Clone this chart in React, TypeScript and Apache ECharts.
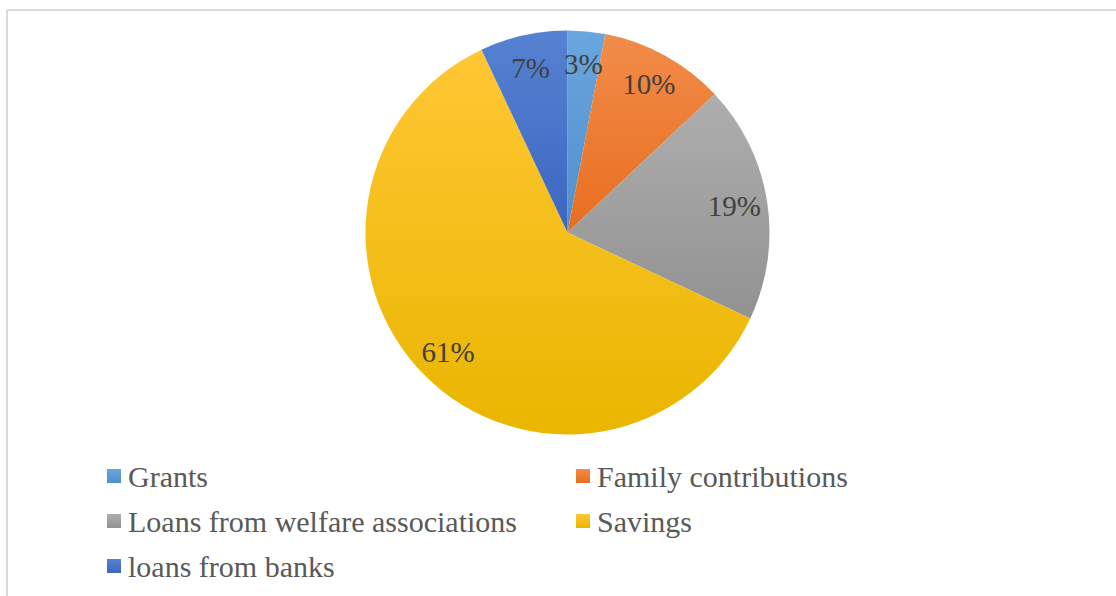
import React, { useEffect, useRef } from "react";
import * as echarts from "echarts";

const categories = [
  "Grants",
  "Family contributions",
  "Loans from welfare associations",
  "Savings",
  "loans from banks",
];
const values = [3, 10, 19, 61, 7];
const topColors = ["#6AA6DE", "#F28C4A", "#AEAEAE", "#FFC734", "#5682D2"];
const bottomColors = ["#4F8FCB", "#E86E1F", "#929292", "#E9B600", "#3D66BF"];

export default function App() {
  const ref = useRef<HTMLDivElement>(null);
  useEffect(() => {
    if (!ref.current) return;
    const chart = echarts.init(ref.current, undefined, { renderer: "svg" });
    const data = categories.map((name, i) => ({
      name,
      value: values[i],
      itemStyle: {
        color: new echarts.graphic.LinearGradient(0, 0, 0, 1, [
          { offset: 0, color: topColors[i] },
          { offset: 1, color: bottomColors[i] },
        ]),
      },
    }));
    const labelData = categories.map((name, i) => ({ name, value: values[i] }));
    chart.setOption({
      animation: false,
      backgroundColor: "#ffffff",
      legend: {
        left: 107,
        top: 458.5,
        width: 940,
        padding: 0,
        orient: "horizontal",
        icon: "rect",
        itemWidth: 14,
        itemHeight: 14,
        itemGap: 10,
        data: categories,
        textStyle: {
          fontFamily: "'Liberation Serif', 'Times New Roman', serif",
          fontSize: 30,
          color: "#595959",
          width: 438,
          lineHeight: 35,
          padding: [0, 0, 0, 2],
        },
      },
      graphic: [
        {
          type: "line",
          shape: { x1: 7, y1: 10, x2: 1116, y2: 10 },
          style: { stroke: "#D9D9D9", lineWidth: 2 },
          silent: true,
        },
        {
          type: "line",
          shape: { x1: 7, y1: 10, x2: 7, y2: 596 },
          style: { stroke: "#D9D9D9", lineWidth: 2 },
          silent: true,
        },
      ],
      series: [
        {
          type: "pie",
          center: [567.5, 232.5],
          radius: [0, 202],
          startAngle: 90,
          clockwise: true,
          data,
          label: { show: false },
          labelLine: { show: false },
          emphasis: { disabled: true },
          silent: true,
        },
        {
          type: "pie",
          center: [567.5, 232.5],
          radius: [150, 182],
          startAngle: 90,
          clockwise: true,
          data: labelData,
          itemStyle: { color: "rgba(0,0,0,0)" },
          label: {
            show: true,
            position: "inside",
            formatter: "{c}%",
            fontFamily: "'Liberation Serif', 'Times New Roman', serif",
            fontSize: 29,
            color: "#404040",
          },
          labelLine: { show: false },
          emphasis: { disabled: true },
          silent: true,
        },
      ],
    });
    return () => chart.dispose();
  }, []);
  return (
    <div
      ref={ref}
      style={{ position: "fixed", left: 0, top: 0, width: 1116, height: 596 }}
    />
  );
}
